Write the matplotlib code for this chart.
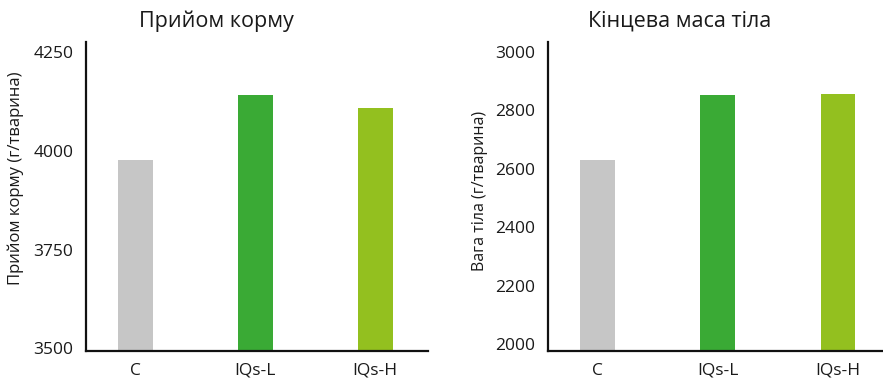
import matplotlib
matplotlib.use("Agg")
import matplotlib.pyplot as plt

plt.rcParams['font.family'] = ['Open Sans', 'DejaVu Sans']

categories = ["C", "IQs-L", "IQs-H"]
feed_intake = [3977, 4142, 4109]
body_weight = [2629, 2852, 2855]
feed_ticks = [3500, 3750, 4000, 4250]
weight_ticks = [2000, 2200, 2400, 2600, 2800, 3000]
colors = ["#c6c6c6", "#3aaa35", "#93c01f"]

W, H = 883, 378
fig = plt.figure(figsize=(W / 100, H / 100), dpi=100)

def px_axes(x0, x1, top, bottom):
    return fig.add_axes([x0 / W, 1 - bottom / H, (x1 - x0) / W, (bottom - top) / H])

def style(ax, ticks, ylim):
    x = range(len(categories))
    ax.set_xlim(-0.41, 2.44)
    ax.set_ylim(*ylim)
    ax.set_yticks(ticks)
    ax.set_xticks(list(x))
    ax.set_xticklabels(categories)
    ax.tick_params(axis='both', length=0, labelsize=12.5, colors='#1a1a1a')
    ax.tick_params(axis='y', pad=9)
    ax.tick_params(axis='x', pad=8.5)
    for s in ('top', 'right'):
        ax.spines[s].set_visible(False)
    for s in ('left', 'bottom'):
        ax.spines[s].set_linewidth(1.6)
        ax.spines[s].set_color('#111111')

ax1 = px_axes(86, 428, 42, 351)
ax1.bar(range(len(categories)), feed_intake, width=0.29, color=colors)
style(ax1, feed_ticks, (3493, 4276))

ax2 = px_axes(548, 891, 42, 351)
ax2.bar(range(len(categories)), body_weight, width=0.29, color=colors)
style(ax2, weight_ticks, (1976, 3033))

fig.text(216.5 / W, 1 - 21 / H, "Прийом корму", ha='center', va='center', fontsize=15.5, color='#1a1a1a')
fig.text(680 / W, 1 - 21 / H, "Кінцева маса тіла", ha='center', va='center', fontsize=15.5, color='#1a1a1a')
fig.text(16 / W, 1 - 178 / H, "Прийом корму (г/тварина)", rotation=90, ha='center', va='center', fontsize=12, color='#1a1a1a')
fig.text(480 / W, 1 - 191 / H, "Вага тіла (г/тварина)", rotation=90, ha='center', va='center', fontsize=11.5, color='#1a1a1a')

fig.savefig("out.png", dpi=100)
